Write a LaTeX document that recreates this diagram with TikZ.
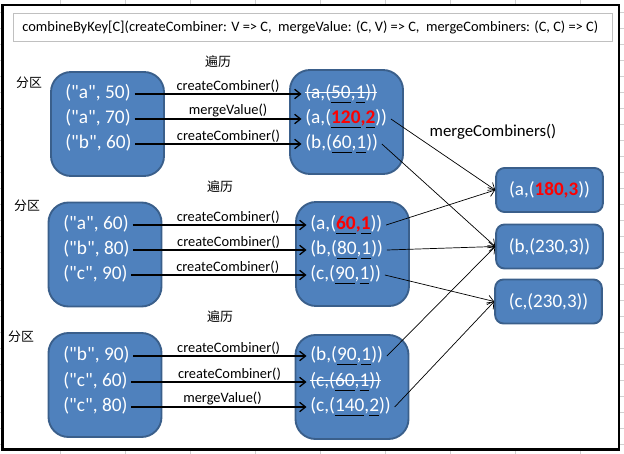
\documentclass[tikz,border=0pt]{standalone}
\usepackage{fontspec}
\setmainfont{Carlito}[Ligatures=TeXOff]
\newfontfamily\cjkfont{Noto Sans CJK SC}
\usepackage{tikz}
\usetikzlibrary{arrows.meta,arrows}
\usetikzlibrary{positioning}
\usetikzlibrary{calc, shapes, backgrounds}
\usepackage{color}

\definecolor{partblue}{HTML}{4F81BD}
\definecolor{partedge}{HTML}{3A5F8B}
\definecolor{xlgrid}{HTML}{D0D0D0}
\definecolor{headedge}{HTML}{C0C0C0}

\newbox\ulbox
\newbox\stbox
\newcommand{\uln}[1]{\setbox\ulbox\hbox{#1}\rlap{\color{black}\rule[-3.6pt]{\wd\ulbox}{0.8pt}}\box\ulbox}
\newcommand{\strk}[1]{\setbox\stbox\hbox{#1}\rlap{\color{white}\rule[0.3em]{\wd\stbox}{0.8pt}}\box\stbox}
\newcommand{\hot}[1]{\textbf{\color{red}#1}}

\begin{document}
\begin{tikzpicture}[x=0.03cm,y=-0.03cm,>={Straight Barb[length=5pt,width=8pt]},semithick]
 \tikzstyle{part node}=[rectangle,draw=partedge,fill=partblue,line width=1.6pt,rounded corners=0.6cm,minimum width=3.39cm,minimum height=3.12cm]
 \tikzstyle{sum node}=[rectangle,draw=partedge,fill=partblue,line width=1.6pt,rounded corners=0.25cm,minimum width=3.2cm,minimum height=1.32cm,text=white,font=\fontsize{16.3}{19}\selectfont]
 \tikzstyle{pair node}=[anchor=west,text=white,inner sep=3pt,text height=12pt,text depth=4pt,font=\fontsize{16.5}{19}\selectfont]
 \tikzset{
 	call node/.style={above,inner sep=1pt,font=\fontsize{12.3}{14}\selectfont},
 	cjk node/.style={font=\cjkfont\fontsize{11}{13}\selectfont},
 	flow/.style={->,line width=1.1pt},
 	merge/.style={->,line width=0.6pt}
 }

       % sheet behind the frame
       \useasboundingbox (0,0) rectangle (624,454);
       \foreach \gx in {60,125,...,580} \draw[xlgrid,thin] (\gx,0) -- (\gx,454);
       \foreach \gy in {12,28,...,444} \draw[xlgrid,thin] (0,\gy) -- (624,\gy);
       \fill[white] (2.5,5) rectangle (619,449.5);
       \draw[line width=2.5pt] (2.5,5) rectangle (619,449.5);

       \node[draw=headedge,line width=0.8pt,minimum width=17.97cm,minimum height=0.84cm] (sig) at (312.5,27) {};
       \node[anchor=west,inner sep=0pt,font=\fontsize{12.3}{14}\selectfont] (sigtext) at (22,27) {combineByKey[C](createCombiner: V => C,\ \ mergeValue: (C, V) => C,\ \ mergeCombiners: (C, C) => C)};

       \node[part node] (p1) at (107.5,124) {};
       \node[part node] (p2) at (105,254.5) {};
       \node[part node] (p3) at (105,385) {};
       \node[part node] (c1) at (346.5,122) {};
       \node[part node] (c2) at (352.5,254) {};
       \node[part node] (c3) at (352,387) {};

       \node[cjk node] (t1) at (218,62) {遍历};
       \node[cjk node] (t2) at (220,187) {遍历};
       \node[cjk node] (t3) at (220,317) {遍历};
       \node[cjk node] (k1) at (29,83) {分区};
       \node[cjk node] (k2) at (27,206) {分区};
       \node[cjk node] (k3) at (21,337) {分区};

       \node[pair node] (p1a) at (61.5,94) {("a", 50)};
       \node[pair node] (p1b) at (61.5,119) {("a", 70)};
       \node[pair node] (p1c) at (61.5,144) {("b", 60)};
       \node[pair node] (c1a) at (301.5,94) {\strk{(a,(\uln{50},\uln{1}))}};
       \node[pair node] (c1b) at (301.5,119) {(a,(\hot{\uln{120},\uln{2}}))};
       \node[pair node] (c1c) at (301.5,144) {(b,(\uln{60},\uln{1}))};

       \node[pair node] (p2a) at (59.5,225) {("a", 60)};
       \node[pair node] (p2b) at (59.5,250) {("b", 80)};
       \node[pair node] (p2c) at (59.5,275) {("c", 90)};
       \node[pair node] (c2a) at (306.5,225) {(a,(\hot{\uln{60},\uln{1}}))};
       \node[pair node] (c2b) at (306.5,250) {(b,(\uln{80},\uln{1}))};
       \node[pair node] (c2c) at (306.5,275) {(c,(\uln{90},\uln{1}))};

       \node[pair node] (p3a) at (59.5,356) {("b", 90)};
       \node[pair node] (p3b) at (59.5,382) {("c", 60)};
       \node[pair node] (p3c) at (59.5,407) {("c", 80)};
       \node[pair node] (c3a) at (306.5,356) {(b,(\uln{90},\uln{1}))};
       \node[pair node] (c3b) at (306.5,382) {\strk{(c,(\uln{60},\uln{1}))}};
       \node[pair node] (c3c) at (306.5,407) {(c,(\uln{140},\uln{2}))};

       \node[sum node] (s1) at (549.5,190) {(a,(\hot{180,3}))};
       \node[sum node] (s2) at (549.5,246.5) {(b,(230,3))};
       \node[sum node] (s3) at (548.5,301.5) {(c,(230,3))};
       \node[font=\fontsize{14.3}{17}\selectfont] (mc) at (493,132) {mergeCombiners()};

     \path[flow] (p1a) edge node[call node,pos=0.56] {createCombiner()} (c1a);
     \path[flow] (p1b) edge node[call node,pos=0.56] {mergeValue()} (c1b);
     \path[flow] (p1c) edge node[call node,pos=0.56] {createCombiner()} (c1c);

     \path[flow] (p2a) edge node[call node,pos=0.55] {createCombiner()} (c2a);
     \path[flow] (p2b) edge node[call node,pos=0.55] {createCombiner()} (c2b);
     \path[flow] (p2c) edge node[call node,pos=0.55] {createCombiner()} (c2c);

     \path[flow] (p3a) edge node[call node,pos=0.55] {createCombiner()} (c3a);
     \path[flow] (p3b) edge node[call node,pos=0.56] {createCombiner()} (c3b);
     \path[flow] (p3c) edge node[call node,pos=0.52] {mergeValue()} (c3c);

     \draw[merge] (c1b.east) -- (s1.west);
     \draw[merge] (c1c.east) -- (s2.west);
     \draw[merge] (c2a.east) -- (s1.west);
     \draw[merge] (c2b.east) -- (s2.west);
     \draw[merge] (c2c.east) -- (s3.west);
     \draw[merge] (c3a.east) -- (s2.west);
     \draw[merge] (c3c.east) -- (s3.west);
 \end{tikzpicture}
\end{document}
